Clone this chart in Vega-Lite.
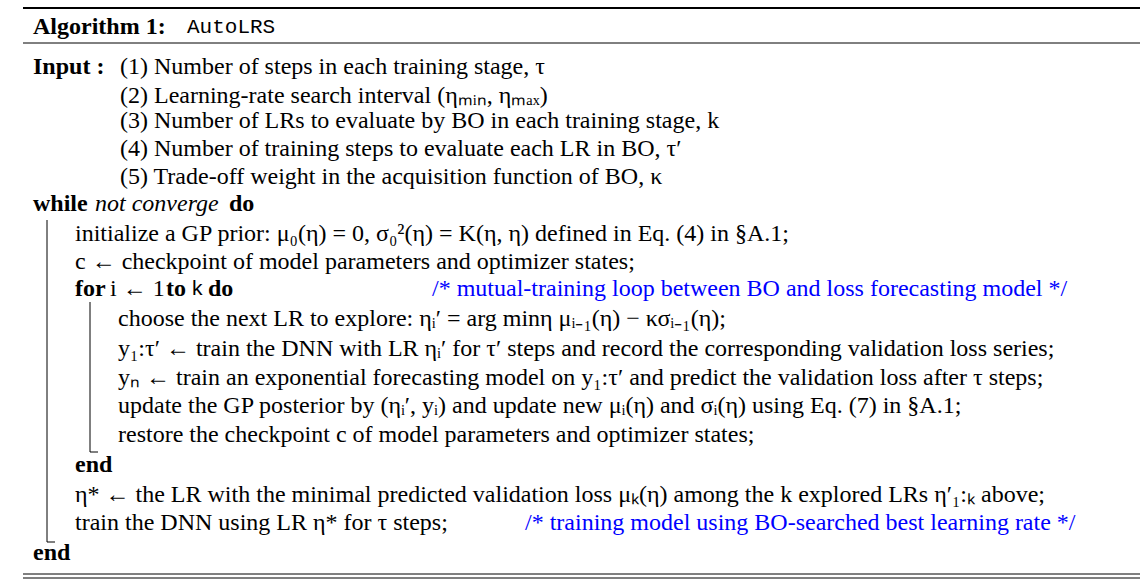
{
"$schema":"https://vega.github.io/schema/vega-lite/v6.json",
"width":1143,"height":588,"autosize":{"type":"fit","contains":"padding"},"padding":0,
"config":{"view":{"stroke":null}},
"datasets":{
"rules":[
{"x":23,"x2":1140,"y":8,"y2":8,"w":2},
{"x":23,"x2":1140,"y":43,"y2":43,"w":1},
{"x":23,"x2":1140,"y":574,"y2":574,"w":1},
{"x":23,"x2":1140,"y":578,"y2":578,"w":1},
{"x":47,"x2":47,"y":220,"y2":542,"w":1},
{"x":47,"x2":55,"y":542,"y2":542,"w":1},
{"x":90,"x2":90,"y":302,"y2":452,"w":1},
{"x":90,"x2":98,"y":452,"y2":452,"w":1}
],
"seg":[
{"x":33,"y":27,"s":"bold","t":"Algorithm 1:"},
{"x":187,"y":27,"s":"mono","t":"AutoLRS"},
{"x":33,"y":67,"s":"bold","t":"Input :"},
{"x":120,"y":67,"s":"normal","t":"(1) Number of steps in each training stage, τ"},
{"x":120,"y":96,"s":"normal","t":"(2) Learning-rate search interval (ηₘᵢₙ, ηₘₐₓ)"},
{"x":120,"y":121,"s":"normal","t":"(3) Number of LRs to evaluate by BO in each training stage, k"},
{"x":120,"y":149,"s":"normal","t":"(4) Number of training steps to evaluate each LR in BO, τ′"},
{"x":120,"y":177,"s":"normal","t":"(5) Trade-off weight in the acquisition function of BO, κ"},
{"x":33,"y":204,"s":"bold","t":"while"},
{"x":95,"y":204,"s":"italic","t":"not converge"},
{"x":229,"y":204,"s":"bold","t":"do"},
{"x":75,"y":234,"s":"normal","t":"initialize a GP prior: μ₀(η) = 0, σ₀²(η) = K(η, η) defined in Eq. (4) in §A.1;"},
{"x":75,"y":262,"s":"normal","t":"c ← checkpoint of model parameters and optimizer states;"},
{"x":75,"y":289,"s":"bold","t":"for"},
{"x":110,"y":289,"s":"normal","t":"i ← 1"},
{"x":166,"y":289,"s":"bold","t":"to"},
{"x":192,"y":289,"s":"sans","t":"k"},
{"x":208,"y":289,"s":"bold","t":"do"},
{"x":432,"y":289,"s":"blue","t":"/* mutual-training loop between BO and loss forecasting model */"},
{"x":118,"y":319,"s":"normal","t":"choose the next LR to explore: ηᵢ′ = arg minη μᵢ₋₁(η) − κσᵢ₋₁(η);"},
{"x":118,"y":349,"s":"normal","t":"y₁:τ′ ← train the DNN with LR ηᵢ′ for τ′ steps and record the corresponding validation loss series;"},
{"x":118,"y":378,"s":"normal","t":"yₙ ← train an exponential forecasting model on y₁:τ′ and predict the validation loss after τ steps;"},
{"x":118,"y":406,"s":"normal","t":"update the GP posterior by (ηᵢ′, yᵢ) and update new μᵢ(η) and σᵢ(η) using Eq. (7) in §A.1;"},
{"x":118,"y":435,"s":"normal","t":"restore the checkpoint c of model parameters and optimizer states;"},
{"x":75,"y":465,"s":"bold","t":"end"},
{"x":75,"y":495,"s":"normal","t":"η* ← the LR with the minimal predicted validation loss μₖ(η) among the k explored LRs η′₁:ₖ above;"},
{"x":75,"y":523,"s":"normal","t":"train the DNN using LR η* for τ steps;"},
{"x":525,"y":523,"s":"blue","t":"/* training model using BO-searched best learning rate */"},
{"x":33,"y":553,"s":"bold","t":"end"}
],
"nums":[
{"n":"1","y":205},{"n":"2","y":235},{"n":"3","y":263},{"n":"4","y":290},{"n":"5","y":320},{"n":"6","y":350},{"n":"7","y":379},{"n":"8","y":407},{"n":"9","y":436},{"n":"10","y":466},{"n":"11","y":496},{"n":"12","y":524},{"n":"13","y":554}
]},
"encoding":{
"x":{"field":"x","type":"quantitative","scale":{"domain":[0,1143]},"axis":null},
"y":{"field":"y","type":"quantitative","scale":{"domain":[588,0]},"axis":null}
},
"layer":[
{"data":{"name":"rules"},"mark":{"type":"rule","color":"black"},
 "encoding":{"x2":{"field":"x2"},"y2":{"field":"y2"},"strokeWidth":{"field":"w","type":"quantitative","scale":null}}},
{"data":{"name":"nums"},"mark":{"type":"text","font":"Liberation Serif","fontSize":14,"fontWeight":"bold","align":"center","baseline":"middle"},
 "encoding":{"x":{"datum":14},"text":{"field":"n"}}},
{"data":{"name":"seg"},"transform":[{"filter":"datum.s=='normal'"}],"mark":{"type":"text","font":"Liberation Serif","fontSize":24,"align":"left","baseline":"middle"},"encoding":{"text":{"field":"t"}}},
{"data":{"name":"seg"},"transform":[{"filter":"datum.s=='bold'"}],"mark":{"type":"text","font":"Liberation Serif","fontSize":24,"fontWeight":"bold","align":"left","baseline":"middle"},"encoding":{"text":{"field":"t"}}},
{"data":{"name":"seg"},"transform":[{"filter":"datum.s=='italic'"}],"mark":{"type":"text","font":"Liberation Serif","fontSize":24,"fontStyle":"italic","align":"left","baseline":"middle"},"encoding":{"text":{"field":"t"}}},
{"data":{"name":"seg"},"transform":[{"filter":"datum.s=='blue'"}],"mark":{"type":"text","font":"Liberation Serif","fontSize":24,"color":"#0000ff","align":"left","baseline":"middle"},"encoding":{"text":{"field":"t"}}},
{"data":{"name":"seg"},"transform":[{"filter":"datum.s=='mono'"}],"mark":{"type":"text","font":"Liberation Mono","fontSize":21,"align":"left","baseline":"middle"},"encoding":{"text":{"field":"t"}}},
{"data":{"name":"seg"},"transform":[{"filter":"datum.s=='sans'"}],"mark":{"type":"text","font":"Liberation Sans","fontSize":21,"align":"left","baseline":"middle"},"encoding":{"text":{"field":"t"}}}
]
}
